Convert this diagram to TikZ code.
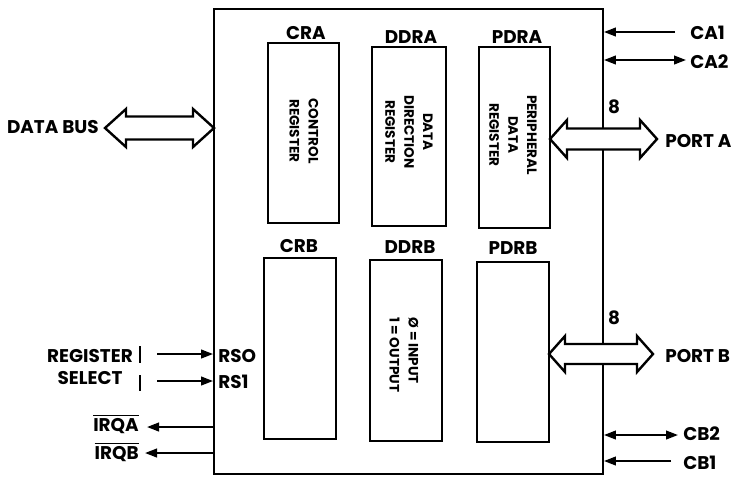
\documentclass[tikz,border=0pt]{standalone}
\usepackage{fontspec}
\setmainfont{Poppins}
\usetikzlibrary{arrows.meta,fit}
\newcommand\ovltext[1]{\setbox0\hbox{#1}\rlap{\raisebox{\dimexpr\ht0+1.6pt\relax}{\rule{\wd0}{0.9pt}}}\box0}
% hollow double arrow: x1 tip, x2 tip, y centre, shaft half, head half, head length
\newcommand\hollowarrow[6]{%
  \draw[hollow] (#1,#3) -- ({#1+#6},{#3-#5}) -- ({#1+#6},{#3-#4}) -- ({#2-#6},{#3-#4})
   -- ({#2-#6},{#3-#5}) -- (#2,#3) -- ({#2-#6},{#3+#5}) -- ({#2-#6},{#3+#4})
   -- ({#1+#6},{#3+#4}) -- ({#1+#6},{#3+#5}) -- cycle;}
\tikzset{
  chipbox/.style={draw, line width=1.4pt, inner sep=0pt},
  regbox/.style={draw, line width=2.2pt, inner sep=0pt},
  lbl/.style={font=\bfseries\fontsize{13.8}{15}\selectfont, inner sep=0pt},
  rottext/.style={font=\bfseries\fontsize{10.2}{14.2}\selectfont, rotate=-90, align=center, inner sep=0pt},
  sig/.style={line width=1.5pt, -{Triangle[length=9pt,width=6.5pt]}},
  dsig/.style={line width=1.5pt, {Triangle[length=9pt,width=6.5pt]}-{Triangle[length=9pt,width=6.5pt]}},
  hollow/.style={draw, line width=1.8pt, fill=white, line join=miter}
}
\begin{document}
\begin{tikzpicture}[x=0.75pt,y=-0.75pt]
\useasboundingbox (0,0) rectangle (737,480);
% chip outline
\node[chipbox, fit={(214,9) (603,474)}] (chip) {};
% registers
\node[regbox, fit={(268,43) (339,223)}] (cra) {};
\node[regbox, fit={(372,47) (446,226)}] (ddra) {};
\node[regbox, fit={(479,47) (550,228)}] (pdra) {};
\node[regbox, fit={(264,258) (336,439)}] (crb) {};
\node[regbox, fit={(370,260) (442,441)}] (ddrb) {};
\node[regbox, fit={(477,262) (549,442)}] (pdrb) {};
% register titles
\node[lbl] (tcra) at (306,33) {CRA};
\node[lbl] (tddra) at (411,37) {DDRA};
\node[lbl] (tpdra) at (517,37) {PDRA};
\node[lbl] (tcrb) at (299,246) {CRB};
\node[lbl] (tddrb) at (410,247) {DDRB};
\node[lbl] (tpdrb) at (513,248) {PDRB};
% rotated contents
\node[rottext] (ccra) at (304,131) {CONTROL\\REGISTER};
\node[rottext] (cddra) at (409,132) {DATA\\DIRECTION\\REGISTER};
\node[rottext] (cpdra) at (513,135) {PERIPHERAL\\DATA\\REGISTER};
\node[rottext, align=left] (cddrb) at (404,355) {Ø = INPUT\\1 = OUTPUT};
% data bus
\node[lbl, anchor=east] (databus) at (99,127) {DATA BUS};
\hollowarrow{105}{214}{128}{11.5}{19}{21}
% ports
\hollowarrow{550}{657}{139}{10.5}{19}{17}
\hollowarrow{549}{653}{354}{10}{18}{16}
\node[lbl] (eighta) at (614,107) {8};
\node[lbl] (eightb) at (614,318) {8};
\node[lbl, anchor=west] (porta) at (665,141) {PORT A};
\node[lbl, anchor=west] (portb) at (665,356) {PORT B};
% control lines A
\node[lbl, anchor=west] (ca1) at (690,33) {CA1};
\node[lbl, anchor=west] (ca2) at (690,62) {CA2};
\coordinate (ca1s) at (675,32);
\coordinate (ca2s) at (686,60);
\draw[sig] (ca1s) -- (ca1s -| chip.east);
\draw[dsig] (ca2s -| chip.east) -- (ca2s);
% control lines B
\node[lbl, anchor=west] (cb2) at (683,434) {CB2};
\node[lbl, anchor=west] (cb1) at (683,463) {CB1};
\coordinate (cb2s) at (678,435);
\coordinate (cb1s) at (671,461);
\draw[dsig] (cb2s -| chip.east) -- (cb2s);
\draw[sig] (cb1s) -- (cb1s -| chip.east);
% register select
\node[lbl, align=center] (regsel) at (90,367) {REGISTER\\[1pt]SELECT};
\draw[line width=0.9pt] (140,346) -- (140,363) (140,375) -- (140,391);
\coordinate (rs0s) at (157,354);
\coordinate (rs1s) at (157,381);
\draw[sig] (rs0s) -- (rs0s -| chip.west);
\draw[sig] (rs1s) -- (rs1s -| chip.west);
\node[lbl, anchor=west] (rs0) at (218,356) {RSO};
\node[lbl, anchor=west] (rs1) at (218,382) {RS1};
% interrupts
\node[lbl, anchor=east] (irqa) at (139,424) {\ovltext{IRQA}};
\node[lbl, anchor=east] (irqb) at (139,452) {\ovltext{IRQB}};
\coordinate (irqat) at (147,427);
\coordinate (irqbt) at (145,453);
\draw[sig] (irqat -| chip.west) -- (irqat);
\draw[sig] (irqbt -| chip.west) -- (irqbt);
\end{tikzpicture}
\end{document}
